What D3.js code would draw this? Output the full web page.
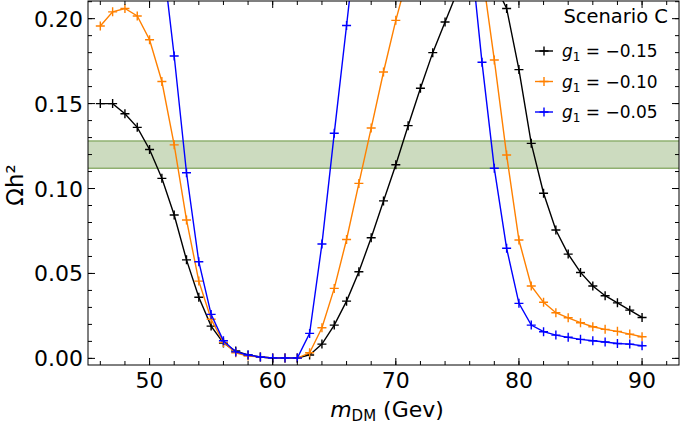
<!DOCTYPE html>
<html>
  <head>
    <meta charset="utf-8">
    <title>Relic density</title>
    <script type="text/javascript" src="https://d3js.org/d3.v7.min.js"></script>
    <style>
      html, body { margin: 0; background: #fff; }
      text { font-family: "DejaVu Sans", sans-serif; }
    </style>
  </head>
  <body>
    <script>

    // masses (GeV), one point per integer
    var mass = d3.range(46, 91);

    var black = [0.150, 0.150, 0.144, 0.136, 0.123, 0.106, 0.0844, 0.058, 0.036, 0.019,
                 0.009, 0.0043, 0.002, 0.0008, 0.0002, 0.0002, 0.0002, 0.002, 0.0084, 0.0196,
                 0.0337, 0.051, 0.071, 0.0927, 0.114, 0.137, 0.159, 0.180, 0.198, 0.216,
                 0.226, 0.228, 0.221, 0.206, 0.170, 0.1266, 0.0972, 0.0756, 0.0614, 0.0506,
                 0.0426, 0.0369, 0.0327, 0.0284, 0.0241];
    var orange = [0.1957, 0.204, 0.206, 0.2016, 0.1876, 0.163, 0.1257, 0.0815, 0.0455, 0.023,
                  0.0094, 0.0033, 0.0014, 0.0008, 0.0002, 0.0002, 0.0002, 0.0033, 0.018, 0.0412,
                  0.070, 0.103, 0.1356, 0.1686, 0.199, 0.226, 0.245, 0.255, 0.258, 0.255,
                  0.245, 0.228, 0.1757, 0.1197, 0.0697, 0.0426, 0.033, 0.0269, 0.0239, 0.021,
                  0.0186, 0.0171, 0.0159, 0.0143, 0.0127];
    var blue = [0.27, 0.28, 0.28, 0.275, 0.265, 0.24, 0.178, 0.1093, 0.0569, 0.0259,
                0.0104, 0.0038, 0.002, 0.0008, 0.0002, 0.0002, 0.0002, 0.0147, 0.0673, 0.1325,
                0.196, 0.26, 0.30, 0.32, 0.33, 0.33, 0.32, 0.31, 0.29, 0.27,
                0.245, 0.1743, 0.1119, 0.0648, 0.0324, 0.0196, 0.0157, 0.0137, 0.0124, 0.0112,
                0.0104, 0.0096, 0.0088, 0.0084, 0.0074];

    var seriesNames = ["\u22120.15", "\u22120.10", "\u22120.05"];
    var seriesColors = ["#000000", "#ff8000", "#0000ff"];
    var seriesValues = [black, orange, blue];

    var band = [0.112, 0.128];

    var xTicks = [50, 60, 70, 80, 90];
    var yTicks = [0.00, 0.05, 0.10, 0.15, 0.20];

    var W = 680, H = 431;
    var L = 88, R = 679, T = 1, B = 365;

    var x = d3.scaleLinear().domain([45, 93]).range([L, R]);
    var y = d3.scaleLinear().domain([-0.0039, 0.2104]).range([B, T]);

    var svg = d3.select("body").append("svg")
                .attr("width", W).attr("height", H);

    svg.append("clipPath").attr("id", "clip")
       .append("rect").attr("x", L).attr("y", T).attr("width", R - L).attr("height", B - T);

    var plot = svg.append("g").attr("clip-path", "url(#clip)");

    // observed relic band
    plot.append("rect")
        .attr("x", L).attr("width", R - L)
        .attr("y", y(band[1])).attr("height", y(band[0]) - y(band[1]))
        .attr("fill", "#ccdbbf");
    band.forEach(function(b) {
      plot.append("line")
          .attr("x1", L).attr("x2", R).attr("y1", y(b)).attr("y2", y(b))
          .attr("stroke", "#8fb070").attr("stroke-width", 1.5);
    });

    var line = d3.line()
                 .x(function(d, i) { return x(mass[i]); })
                 .y(function(d) { return y(d); });

    seriesValues.forEach(function(vals, k) {
      var c = seriesColors[k];
      plot.append("path")
          .attr("d", line(vals))
          .attr("fill", "none").attr("stroke", c).attr("stroke-width", 1.4);
      plot.selectAll(null)
          .data(vals)
          .enter()
          .append("path")
          .attr("d", function(d, i) {
            var px = x(mass[i]), py = y(d);
            return "M" + (px - 4.5) + "," + py + "H" + (px + 4.5) + "M" + px + "," + (py - 4.5) + "V" + (py + 4.5);
          })
          .attr("stroke", c).attr("stroke-width", 1.4).attr("fill", "none");
    });

    // frame with inward ticks on all sides
    var frame = svg.append("g");
    frame.append("rect")
         .attr("x", L).attr("y", T).attr("width", R - L).attr("height", B - T)
         .attr("fill", "none").attr("stroke", "#000").attr("stroke-width", 1);

    var xMinor = d3.range(46, 93, 2);
    var yMinor = d3.range(0, 0.211, 0.01);

    function tickX(v, len) {
      frame.append("line").attr("x1", x(v)).attr("x2", x(v)).attr("y1", B).attr("y2", B - len).attr("stroke", "#000");
      frame.append("line").attr("x1", x(v)).attr("x2", x(v)).attr("y1", T).attr("y2", T + len).attr("stroke", "#000");
    }
    function tickY(v, len) {
      frame.append("line").attr("x1", L).attr("x2", L + len).attr("y1", y(v)).attr("y2", y(v)).attr("stroke", "#000");
      frame.append("line").attr("x1", R).attr("x2", R - len).attr("y1", y(v)).attr("y2", y(v)).attr("stroke", "#000");
    }
    xMinor.forEach(function(v) { tickX(v, 4); });
    xTicks.forEach(function(v) { tickX(v, 7); });
    yMinor.forEach(function(v) { tickY(v, 4); });
    yTicks.forEach(function(v) { tickY(v, 7); });

    svg.selectAll(".xl").data(xTicks).enter().append("text")
       .attr("x", function(d) { return x(d); }).attr("y", 388)
       .attr("text-anchor", "middle").attr("font-size", 22)
       .text(function(d) { return d; });

    svg.selectAll(".yl").data(yTicks).enter().append("text")
       .attr("x", 83).attr("y", function(d) { return y(d) + 8; })
       .attr("text-anchor", "end").attr("font-size", 22)
       .text(function(d) { return d3.format(".2f")(d); });

    // axis titles
    var xt = svg.append("text").attr("x", 387).attr("y", 417)
                .attr("text-anchor", "middle").attr("font-size", 22);
    xt.append("tspan").attr("font-style", "italic").text("m");
    xt.append("tspan").attr("font-size", 15).attr("dy", 4).text("DM");
    xt.append("tspan").attr("dy", -4).text(" (Gev)");

    svg.append("text")
       .attr("transform", "translate(23,185) rotate(-90)")
       .attr("text-anchor", "middle").attr("font-size", 23)
       .text("\u03A9h\u00B2");

    // legend
    svg.append("text").attr("x", 668).attr("y", 23)
       .attr("text-anchor", "end").attr("font-size", 19.5).text("Scenario C");

    seriesNames.forEach(function(n, k) {
      var ly = 51 + k * 30.5;
      var c = seriesColors[k];
      svg.append("line").attr("x1", 535).attr("x2", 553).attr("y1", ly).attr("y2", ly)
         .attr("stroke", c).attr("stroke-width", 1.4);
      svg.append("path")
         .attr("d", "M" + 539.5 + "," + ly + "H" + 548.5 + "M" + 544 + "," + (ly - 4.5) + "V" + (ly + 4.5))
         .attr("stroke", c).attr("stroke-width", 1.4);
      var t = svg.append("text").attr("x", 562).attr("y", ly + 6).attr("font-size", 17);
      t.append("tspan").attr("font-style", "italic").text("g");
      t.append("tspan").attr("font-size", 12).attr("dy", 4).text("1");
      t.append("tspan").attr("dy", -4).text(" = " + n);
    });

    </script>
  </body>
</html>
